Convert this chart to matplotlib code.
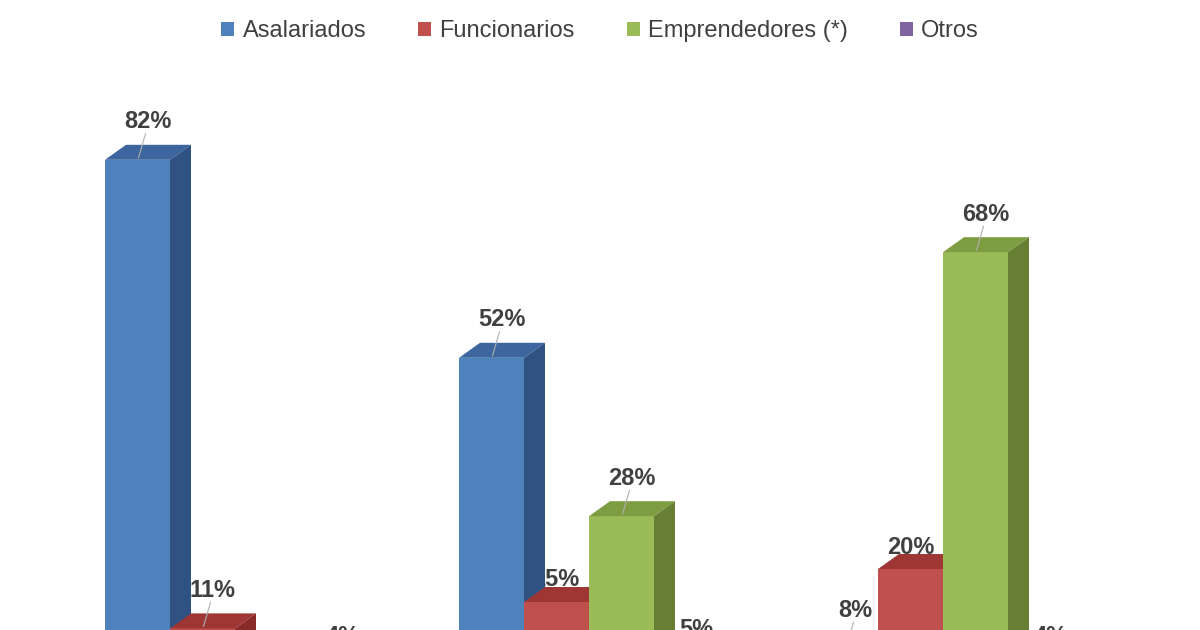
import matplotlib
matplotlib.use("Agg")
import matplotlib.pyplot as plt
from matplotlib.patches import Polygon, Patch

# datos de la gráfica
grupos = ["Grupo 1", "Grupo 2", "Grupo 3"]
series = ["Asalariados", "Funcionarios", "Emprendedores (*)", "Otros"]
asalariados = [82, 52, 8]
funcionarios = [11, 15, 20]
emprendedores = [3, 28, 68]
otros = [4, 5, 4]

# colores: frente, tapa, lateral
colores = {
    "Asalariados": ("#4f81bd", "#3d669e", "#2f5283"),
    "Funcionarios": ("#c0504d", "#9e3633", "#8a2b29"),
    "Emprendedores (*)": ("#9bbb59", "#7e9d42", "#667f33"),
    "Otros": ("#8064a2", "#654c86", "#523d6e"),
}
texto_color = "#404040"

plt.rcParams["font.family"] = ["Liberation Sans", "DejaVu Sans"]

fig = plt.figure(figsize=(12, 6.3), dpi=100)
ax = fig.add_axes([0, 0, 1, 1])
ax.axis("off")

# escala: 354 px por grupo en x, 6.6 px por punto en y
px_x = 354.0
px_y = 6.6
ax.set_xlim(-235 / px_x, (1200 - 235) / px_x)
ax.set_ylim((701 - 630) / px_y, 701 / px_y)

ancho = 65 / px_x
prof_x = 21 / px_x
prof_y = 15 / px_y

valores = [asalariados, funcionarios, emprendedores, otros]
# separación de cada etiqueta (px vertical, px horizontal desde el centro del frente)
sep_defecto = (38, 10)
ajuste_label = {(1, 1): (22, 0), (2, 1): (22, 0)}


def barra_3d(ax, x0, h, col, z):
    frente, tapa, lado = col
    ax.add_patch(Polygon([(x0, 0), (x0 + ancho, 0), (x0 + ancho, h), (x0, h)],
                         closed=True, fc=frente, ec="none", zorder=z))
    ax.add_patch(Polygon([(x0, h), (x0 + ancho, h), (x0 + ancho + prof_x, h + prof_y),
                          (x0 + prof_x, h + prof_y)],
                         closed=True, fc=tapa, ec="none", zorder=z))
    ax.add_patch(Polygon([(x0 + ancho, 0), (x0 + ancho + prof_x, prof_y),
                          (x0 + ancho + prof_x, h + prof_y), (x0 + ancho, h)],
                         closed=True, fc=lado, ec="none", zorder=z))


z = 5
for g in range(len(grupos)):
    inicio = g - 2 * ancho
    for s, nombre in enumerate(series):
        h = valores[s][g]
        x0 = inicio + s * ancho
        barra_3d(ax, x0, h, colores[nombre], z)
        z += 1
        # etiqueta y línea guía
        sy, sx = ajuste_label.get((g, s), sep_defecto)
        fx = x0 + ancho / 2
        tx = fx + sx / px_x
        ty = h + sy / px_y
        ax.text(tx, ty, f"{h}%", ha="center", va="center", fontsize=17,
                fontweight="bold", color=texto_color, zorder=2)
        if sy > 30:
            ax.plot([tx - 2 / px_x, fx + 1 / px_x], [ty - 12 / px_y, h + 2 / px_y],
                    color="#b0b0b0", lw=0.8, zorder=z + 20)

handles = [Patch(fc=colores[n][0], ec="none") for n in series]
ax.legend(handles, series, loc="center", bbox_to_anchor=(0.5, 1 - 31 / 630),
          ncol=4, frameon=False, fontsize=17, handlelength=0.55, handleheight=0.55,
          handletextpad=0.35, columnspacing=2.2, labelcolor=texto_color)

fig.savefig("out.png", dpi=100, facecolor="white")
